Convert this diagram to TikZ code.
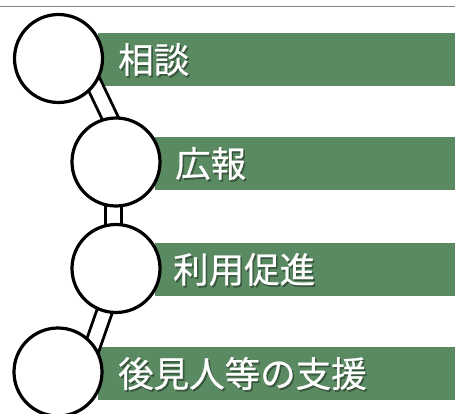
\documentclass[tikz,border=0pt]{standalone}
\usepackage{fontspec}
\newfontfamily\jpfont[FakeBold=0.6]{Noto Sans CJK JP}
\usetikzlibrary{backgrounds}
\definecolor{bargreen}{RGB}{90,138,98}
\definecolor{rulegray}{RGB}{128,128,128}

\begin{document}
\begin{tikzpicture}[x=1pt,y=-1pt,
  ring/.style={circle,draw=black,fill=white,line width=3.2pt,minimum size=88pt,inner sep=0pt},
  bar/.style={rectangle,fill=bargreen,draw=none,anchor=west,minimum height=53pt,minimum width=357pt,inner sep=0pt},
  steptext/.style={anchor=west,inner sep=0pt,text=white,font=\jpfont\fontsize{35.5}{40}\selectfont},
  stepshadow/.style={steptext,text=black,opacity=0.35},
  link/.style={draw=black,line width=2.9pt,double=white,double distance=12.5pt,shorten <=-10pt,shorten >=-10pt}]
  \useasboundingbox (0,0) rectangle (455,414);
  %top rule
  \coordinate (ruleL) at (0,6.5);
  \coordinate (ruleR) at (455,6.5);
  \draw[rulegray,line width=1.4pt] (ruleL) -- (ruleR);
  %circles
  \node[ring] (c1) at (58.5,58.5) {};
  \node[ring] (c2) at (116,162) {};
  \node[ring] (c3) at (116,268.5) {};
  \node[ring] (c4) at (58,372) {};
  %bars and links
  \begin{pgfonlayer}{background}
    \node[bar] (b1) at (98,59.5) {};
    \node[bar] (b2) at (155,163.5) {};
    \node[bar] (b3) at (155,269.5) {};
    \node[bar] (b4) at (98,373.5) {};
    \draw[link] (c1.-37) -- (c2.98);
    \draw[link] (c2.-93) -- (c3.93);
    \draw[link] (c3.255) -- (c4.39);
  \end{pgfonlayer}
  %labels
  \node[stepshadow] (s1) at ([xshift=21.5pt,yshift=-1.8pt]b1.west) {相談};
  \node[steptext] (t1) at ([xshift=20pt]b1.west) {相談};
  \node[stepshadow] (s2) at ([xshift=21.5pt,yshift=-1.8pt]b2.west) {広報};
  \node[steptext] (t2) at ([xshift=20pt]b2.west) {広報};
  \node[stepshadow] (s3) at ([xshift=19.5pt,yshift=-1.8pt]b3.west) {利用促進};
  \node[steptext] (t3) at ([xshift=18pt]b3.west) {利用促進};
  \node[stepshadow] (s4) at ([xshift=21.5pt,yshift=-1.8pt]b4.west) {後見人等の支援};
  \node[steptext] (t4) at ([xshift=20pt]b4.west) {後見人等の支援};
\end{tikzpicture}
\end{document}
